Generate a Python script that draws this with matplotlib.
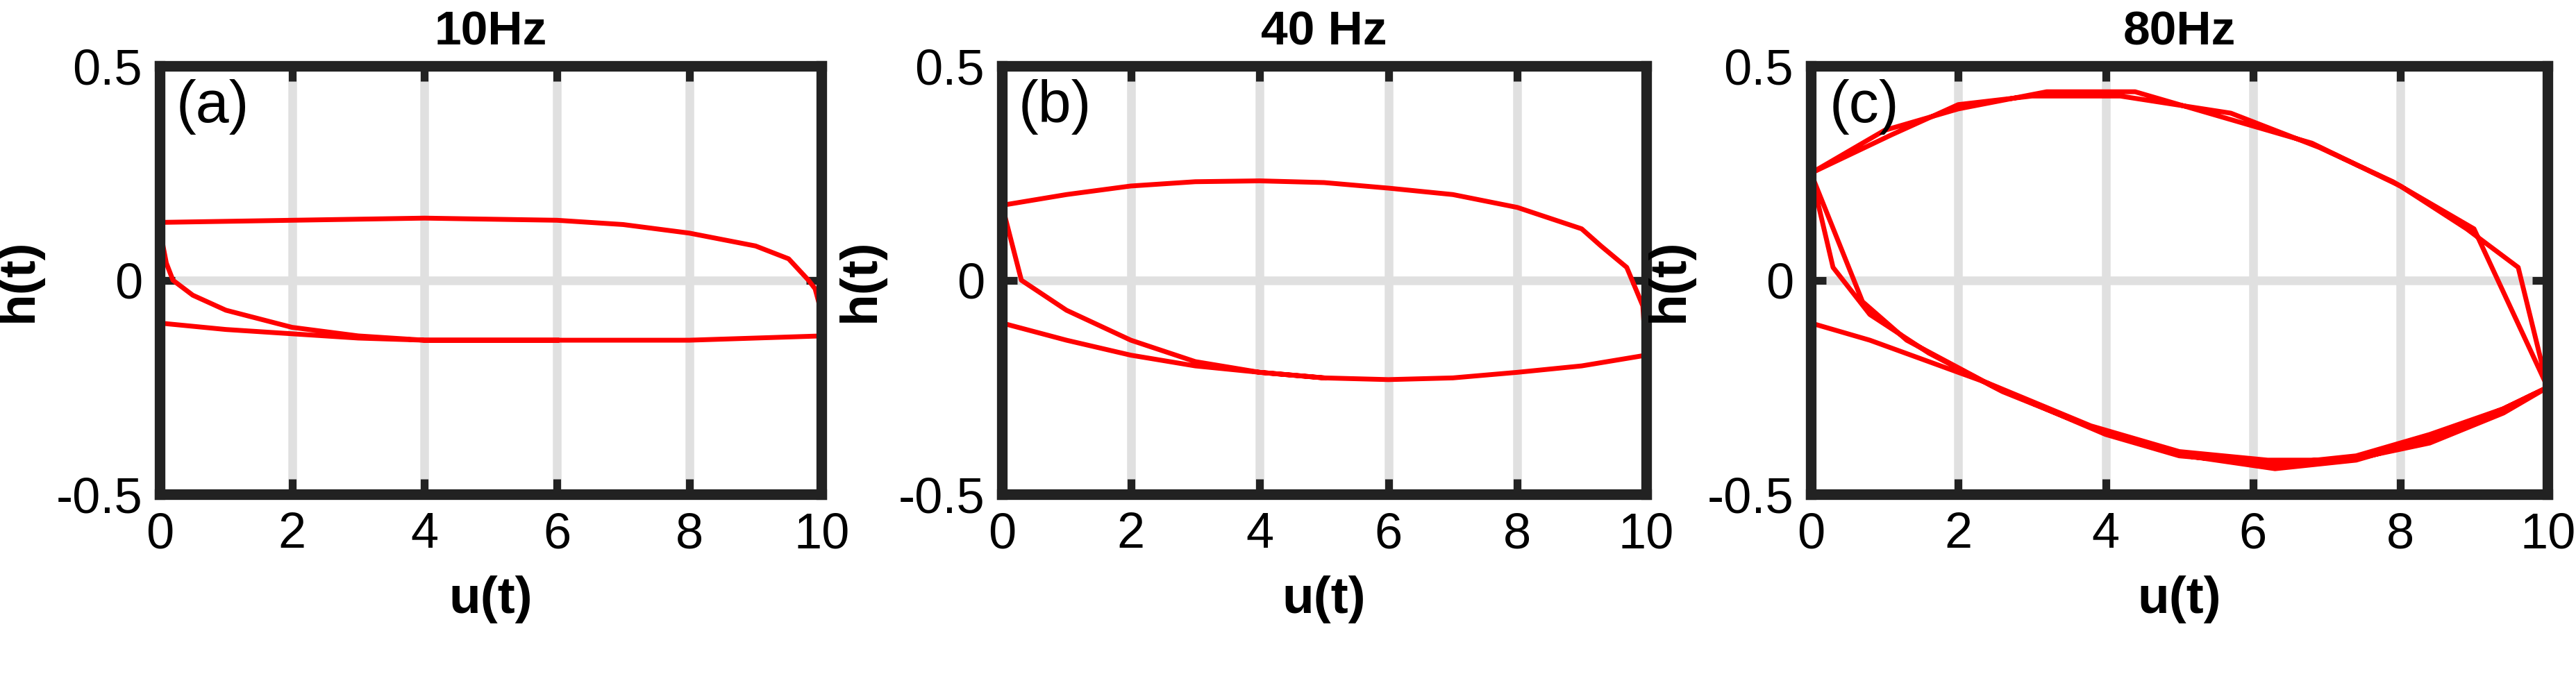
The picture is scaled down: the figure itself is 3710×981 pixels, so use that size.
import matplotlib
matplotlib.use('Agg')
from matplotlib import pyplot as plt

plt.rcParams['font.family'] = ['Liberation Sans', 'DejaVu Sans']

titles = ['10Hz', '40 Hz', '80Hz']
tags = ['(a)', '(b)', '(c)']

u_a = [0, 1, 2, 3, 4, 6, 8, 10, 9.97, 9.9, 9.8, 9.5, 9, 8, 7, 6, 4, 2, 0,
       0.05, 0.1, 0.2, 0.5, 1, 2, 3, 4, 6]
h_a = [-0.1, -0.115, -0.125, -0.135, -0.14, -0.14, -0.14, -0.13, -0.06, -0.02, 0.0, 0.05, 0.08, 0.11,
       0.13, 0.14, 0.145, 0.14, 0.135, 0.08, 0.04, 0.0, -0.035, -0.07, -0.11, -0.13, -0.14, -0.14]

u_b = [0, 1, 2, 3, 4, 5, 6, 7, 8, 9, 10, 9.95, 9.7, 9.3, 9, 8, 7, 6, 5, 4, 3, 2, 1, 0,
       0.3, 1, 2, 3, 4, 5]
h_b = [-0.1, -0.14, -0.175, -0.2, -0.215, -0.228, -0.232, -0.228, -0.215, -0.2, -0.175, -0.06, 0.03,
       0.08, 0.12, 0.17, 0.2, 0.215, 0.228, 0.232, 0.23, 0.22, 0.2, 0.175,
       0.0, -0.07, -0.14, -0.19, -0.215, -0.228]

u_c = [0, 0.8, 2.4, 3.8, 5.0, 6.2, 7.3, 8.4, 9.4, 10,
       9.6, 8.9, 8.0, 6.8, 5.6, 4.4, 3.2, 2.0, 1.0, 0,
       0.3, 0.8, 1.6, 2.6, 3.9, 5.1, 6.3, 7.4, 8.4, 9.4, 10,
       9.0, 7.9, 6.9, 5.7, 4.2, 3.0, 2.0, 1.1, 0,
       0.7, 1.3, 2.5, 4.0, 5.0, 6.3, 7.4, 8.4, 9.4, 10]
h_c = [-0.1, -0.14, -0.24, -0.34, -0.4, -0.42, -0.42, -0.38, -0.31, -0.25,
       0.03, 0.12, 0.22, 0.32, 0.38, 0.44, 0.44, 0.4, 0.35, 0.25,
       0.03, -0.08, -0.17, -0.26, -0.35, -0.41, -0.44, -0.42, -0.37, -0.3, -0.25,
       0.12, 0.23, 0.31, 0.39, 0.43, 0.43, 0.41, 0.34, 0.25,
       -0.05, -0.14, -0.25, -0.36, -0.41, -0.43, -0.41, -0.36, -0.3, -0.25]

data = [(u_a, h_a), (u_b, h_b), (u_c, h_c)]
boxes = [[0.062, 0.274, 0.257, 0.629], [0.389, 0.274, 0.250, 0.629], [0.703, 0.274, 0.286, 0.629]]

fig = plt.figure(figsize=(37.1, 9.81), dpi=100)
for i in range(3):
    ax = fig.add_axes(boxes[i])
    ax.plot(data[i][0], data[i][1], color='#ff0000', lw=5)
    ax.set_xlim(0, 10)
    ax.set_ylim(-0.5, 0.5)
    ax.set_xticks([0, 2, 4, 6, 8, 10])
    ax.set_yticks([-0.5, 0, 0.5])
    ax.set_yticklabels(['-0.5', '0', '0.5'])
    ax.grid(color='#e0e0e0', lw=9)
    ax.set_axisbelow(True)
    for s in ax.spines.values():
        s.set_linewidth(11)
        s.set_color('#222222')
    ax.tick_params(direction='in', length=16, width=8, color='#222222', labelsize=52, top=True, right=True, pad=18)
    ax.set_title(titles[i], fontsize=50, fontweight='bold', pad=22)
    ax.set_xlabel('u(t)', fontsize=54, fontweight='bold', labelpad=18)
    ax.set_ylabel('h(t)', fontsize=54, fontweight='bold', labelpad=14)
    ax.text(0.025, 0.97, tags[i], transform=ax.transAxes, fontsize=62, va='top', ha='left')

fig.savefig('out.png')
